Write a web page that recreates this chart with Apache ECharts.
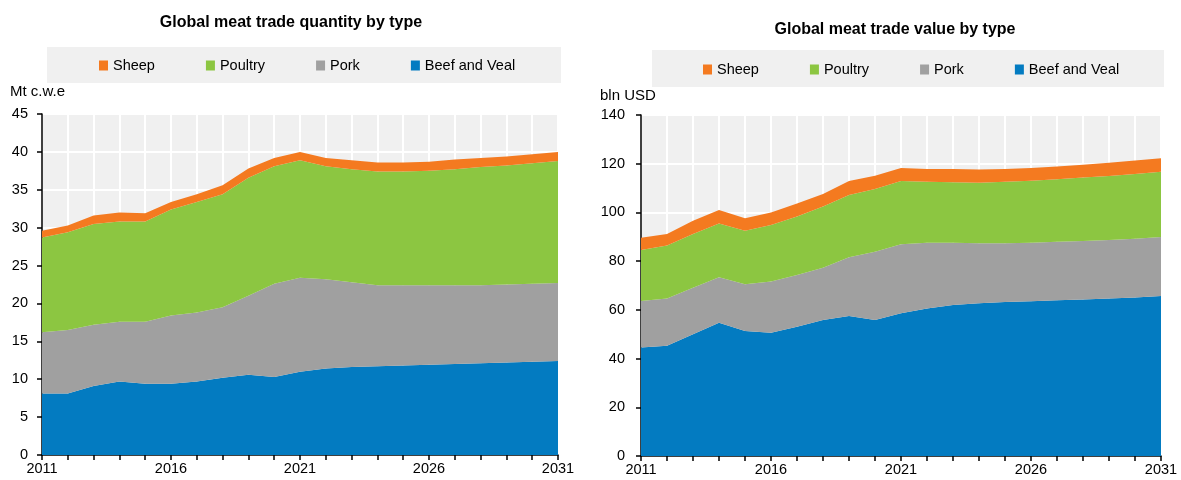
<!DOCTYPE html>
<html>
<head>
<meta charset="utf-8">
<script src="https://cdn.jsdelivr.net/npm/echarts@6/dist/echarts.min.js"></script>
<style>
  html, body { margin: 0; padding: 0; background: #fff; }
  #main { width: 1181px; height: 480px; }
</style>
</head>
<body>
<div id="main"></div>
<script>
// years on the x axis
var years = [];
for (var y = 2011; y <= 2031; y++) years.push(String(y));

// quantity, Mt c.w.e
var qtyBeef    = [8.1, 8.1, 9.1, 9.7, 9.4, 9.4, 9.7, 10.2, 10.6, 10.3, 11.0, 11.4, 11.6, 11.7, 11.8, 11.9, 12.0, 12.1, 12.2, 12.3, 12.4];
var qtyPork    = [8.1, 8.4, 8.1, 7.9, 8.2, 9.0, 9.1, 9.3, 10.4, 12.3, 12.4, 11.8, 11.2, 10.7, 10.6, 10.5, 10.4, 10.3, 10.3, 10.3, 10.3];
var qtyPoultry = [12.5, 12.9, 13.3, 13.2, 13.2, 14.0, 14.6, 14.9, 15.6, 15.5, 15.5, 14.9, 14.9, 15.0, 15.0, 15.1, 15.3, 15.6, 15.7, 15.9, 16.1];
var qtySheep   = [0.9, 0.9, 1.1, 1.2, 1.1, 1.0, 1.0, 1.2, 1.2, 1.1, 1.1, 1.1, 1.2, 1.2, 1.2, 1.2, 1.3, 1.2, 1.2, 1.2, 1.2];

// value, bln USD
var valBeef    = [44.5, 45.3, 50.0, 54.7, 51.3, 50.6, 53.1, 55.8, 57.5, 55.8, 58.6, 60.6, 62.0, 62.7, 63.2, 63.5, 63.9, 64.3, 64.7, 65.1, 65.7];
var valPork    = [19.1, 19.4, 19.1, 18.7, 19.2, 21.0, 21.2, 21.5, 24.1, 28.1, 28.3, 27.0, 25.6, 24.6, 24.1, 24.1, 24.1, 24.0, 24.0, 24.1, 24.2];
var valPoultry = [21.0, 21.7, 22.0, 22.1, 22.0, 23.2, 24.0, 25.1, 25.6, 25.7, 26.0, 25.0, 24.8, 24.9, 25.3, 25.4, 25.6, 26.0, 26.3, 26.6, 26.8];
var valSheep   = [5.0, 4.7, 5.5, 5.5, 5.1, 5.2, 5.4, 5.2, 5.7, 5.5, 5.3, 5.2, 5.4, 5.4, 5.2, 5.2, 5.3, 5.3, 5.4, 5.5, 5.5];

var legendNames = ['Sheep', 'Poultry', 'Pork', 'Beef and Veal'];
var colors = { 'Sheep': '#f47a20', 'Poultry': '#8cc641', 'Pork': '#a0a0a0', 'Beef and Veal': '#037bc1' };

var FONT = "'Liberation Sans', Arial, sans-serif";

var myChart = echarts.init(document.getElementById('main'), null, { renderer: 'canvas' });

function area(name, data, idx) {
	return {
		name: name,
		type: 'line',
		stack: 'total' + idx,
		xAxisIndex: idx,
		yAxisIndex: idx,
		data: data,
		symbol: 'none',
		silent: true,
		lineStyle: { width: 0 },
		itemStyle: { color: colors[name] },
		areaStyle: { color: colors[name], opacity: 1 }
	};
}

function xAx(idx) {
	return {
		type: 'category',
		gridIndex: idx,
		data: years,
		boundaryGap: false,
		axisLine: { lineStyle: { color: '#000', width: 1.5 } },
		axisTick: { interval: 0, length: 5, lineStyle: { color: '#000', width: 1.5 } },
		axisLabel: { interval: 4, color: '#000', fontSize: 14.5, fontFamily: FONT, margin: 6 },
		splitLine: { show: true, interval: 0, lineStyle: { color: '#fff', width: 2 } }
	};
}

function yAx(idx, max, step, margin) {
	return {
		type: 'value',
		gridIndex: idx,
		min: 0,
		max: max,
		interval: step,
		axisLine: { show: true, lineStyle: { color: '#000', width: 1.5 } },
		axisTick: { show: true, length: 5, lineStyle: { color: '#000', width: 1.5 } },
		axisLabel: { color: '#000', fontSize: 14.5, fontFamily: FONT, margin: margin },
		splitLine: { show: true, lineStyle: { color: '#fff', width: 2 } }
	};
}

function leg(left, top) {
	return {
		data: legendNames,
		left: left,
		top: top,
		padding: 0,
		icon: 'rect',
		itemWidth: 9,
		itemHeight: 10,
		itemGap: 51,
		selectedMode: false,
		textStyle: { color: '#000', fontSize: 14.5, fontFamily: FONT }
	};
}

var option = {
	animation: false,
	title: [{
		text: 'Global meat trade quantity by type',
		left: 286,
		top: 10,
		textAlign: 'center',
		textStyle: { fontSize: 16, fontWeight: 'bold', color: '#000', fontFamily: FONT }
	}, {
		text: 'Global meat trade value by type',
		left: 890,
		top: 17,
		textAlign: 'center',
		textStyle: { fontSize: 16, fontWeight: 'bold', color: '#000', fontFamily: FONT }
	}],
	graphic: [
		{ type: 'rect', shape: { x: 47, y: 47, width: 514, height: 36 }, style: { fill: '#f0f0f0' }, z: -1 },
		{ type: 'rect', shape: { x: 652, y: 50, width: 512, height: 37 }, style: { fill: '#f0f0f0' }, z: -1 },
		{ type: 'text', left: 10, top: 84, style: { text: 'Mt c.w.e', fontSize: 15, fontFamily: FONT, fill: '#000' } },
		{ type: 'text', left: 600, top: 88, style: { text: 'bln USD', fontSize: 15, fontFamily: FONT, fill: '#000' } }
	],
	legend: [leg(99, 58), leg(703, 62)],
	grid: [
		{ left: 42, top: 114, width: 516, height: 341, show: true, backgroundColor: '#f0f0f0', borderWidth: 0 },
		{ left: 641, top: 115, width: 520, height: 341, show: true, backgroundColor: '#f0f0f0', borderWidth: 0 }
	],
	xAxis: [xAx(0), xAx(1)],
	yAxis: [yAx(0, 45, 5, 14), yAx(1, 140, 20, 16)],
	series: [
		area('Beef and Veal', qtyBeef, 0),
		area('Pork', qtyPork, 0),
		area('Poultry', qtyPoultry, 0),
		area('Sheep', qtySheep, 0),
		area('Beef and Veal', valBeef, 1),
		area('Pork', valPork, 1),
		area('Poultry', valPoultry, 1),
		area('Sheep', valSheep, 1)
	]
};

myChart.setOption(option);
</script>
</body>
</html>
